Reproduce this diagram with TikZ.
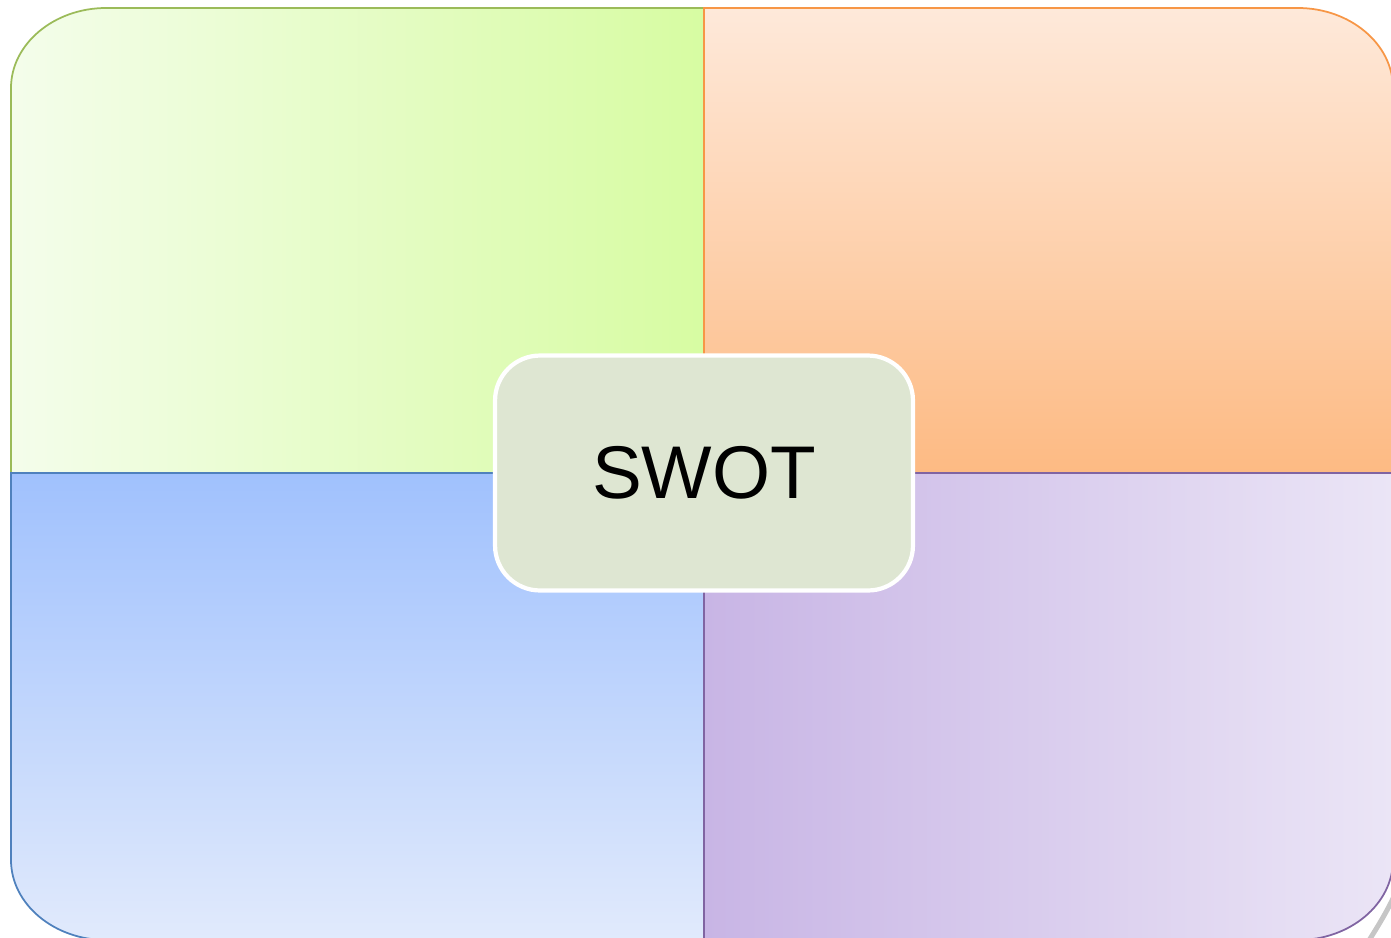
\documentclass[tikz,border=0pt]{standalone}
\usepackage{fontspec}
\setmainfont{Liberation Sans}
\usetikzlibrary{positioning}

\definecolor{strEdge}{HTML}{9BBB59}
\definecolor{strLight}{HTML}{F4FDEB}
\definecolor{strDark}{HTML}{D7FCA2}
\definecolor{weakEdge}{HTML}{F79646}
\definecolor{weakLight}{HTML}{FEE9DA}
\definecolor{weakDark}{HTML}{FDBA83}
\definecolor{oppEdge}{HTML}{4F81BD}
\definecolor{oppLight}{HTML}{E1EAFC}
\definecolor{oppDark}{HTML}{A0C1FD}
\definecolor{thrEdge}{HTML}{8064A2}
\definecolor{thrLight}{HTML}{EBE5F6}
\definecolor{thrDark}{HTML}{C8B5E5}
\definecolor{swotFill}{HTML}{DEE6D2}

\begin{document}
\begin{tikzpicture}[
    x=0.02cm, y=-0.02cm,
    quad/.style={line width=1pt},
    strength/.style={quad, draw=strEdge, left color=strLight, right color=strDark},
    weakness/.style={quad, draw=weakEdge, top color=weakLight, bottom color=weakDark},
    opportunity/.style={quad, draw=oppEdge, top color=oppDark, bottom color=oppLight},
    threat/.style={quad, draw=thrEdge, left color=thrDark, right color=thrLight},
    swotbox/.style={rectangle, draw=white, line width=2.4pt, fill=swotFill, rounded corners=0.9cm,
        minimum width=8.36cm, minimum height=4.7cm, font=\fontsize{42.5}{50}\selectfont},
    curl/.style={line width=0.1cm, draw=gray!45, line cap=round}
]
    \useasboundingbox (0,0) rectangle (1391,937);

    % four quadrants
    \path[strength] (11,473) -- (11,88) .. controls (11,44) and (54,8) .. (106,8) -- (704,8) -- (704,473) -- cycle;
    \path[weakness] (704,473) -- (704,8) -- (1298,8) .. controls (1350,8) and (1393,44) .. (1393,88) -- (1393,473) -- cycle;
    \path[opportunity] (11,473) -- (11,860) .. controls (11,904) and (54,940) .. (106,940) -- (704,940) -- (704,473) -- cycle;
    \path[threat] (704,473) -- (704,940) -- (1298,940) .. controls (1350,940) and (1393,904) .. (1393,860) -- (1393,473) -- cycle;

    % shadow of the curled corner
    \draw[curl] (1396,892) .. controls (1388,910) and (1378,926) .. (1368,942);

    \node[swotbox] (swot) at (704,473) {SWOT};
\end{tikzpicture}
\end{document}
